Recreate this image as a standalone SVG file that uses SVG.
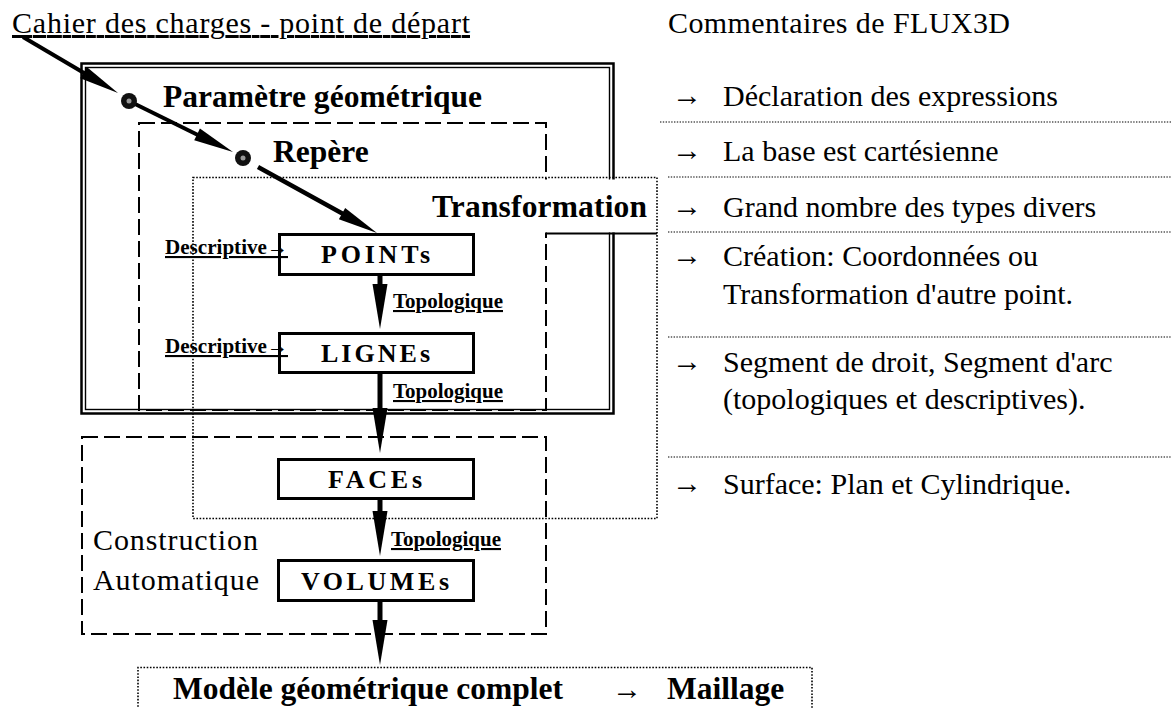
<svg xmlns="http://www.w3.org/2000/svg" xmlns:xlink="http://www.w3.org/1999/xlink" width="1172" height="708" viewBox="0 0 1172 708">
<style>
text{font-family:"Liberation Serif","Times New Roman",serif;fill:#000}
.h{font-size:31.5px;font-weight:bold}
.c{font-size:30px}
.n{font-size:26px;font-weight:bold}
.s{font-size:21px;font-weight:bold;text-decoration:underline}
.box{fill:#fff;stroke:#000;stroke-width:3}
.dash{fill:none;stroke:#000;stroke-width:2;stroke-dasharray:16 6}
.dot{fill:none;stroke:#000;stroke-width:1.6;stroke-dasharray:1.6 1.6}
.thin{fill:none;stroke:#000;stroke-width:1.2;stroke-dasharray:1.4 1.4}
.ln{stroke:#000;fill:none}
</style>
<defs>
<path id="hv" d="M-7.5,0 L7.5,0 L0,45 Z" fill="#000"/>
<path id="hd" d="M0,0 L-40,-6.5 L-40,6.5 Z" fill="#000"/>
</defs>
<rect width="1172" height="708" fill="#fff"/>

<g id="title">
<text class="c" x="12" y="33" font-size="31" textLength="458" lengthAdjust="spacing" style="text-decoration:underline">Cahier des charges - point de départ</text>
<text class="c" x="668" y="33" textLength="342" lengthAdjust="spacing">Commentaires de FLUX3D</text>
</g>

<g id="parametre">
<rect x="81.5" y="63.5" width="532" height="350" fill="none" stroke="#000" stroke-width="2.5"/>
<rect x="85.5" y="67.5" width="524" height="342" fill="none" stroke="#000" stroke-width="1.4"/>
<text class="h" x="163" y="107" textLength="319" lengthAdjust="spacing">Paramètre géométrique</text>
</g>

<g id="repere">
<rect x="139" y="123" width="407" height="287" class="dash"/>
<text class="h" x="273" y="162">Repère</text>
</g>

<g id="construction">
<rect x="82" y="437" width="464" height="197" class="dash"/>
<text class="c" x="93" y="550" font-size="31" textLength="165" lengthAdjust="spacing">Construction</text>
<text class="c" x="93" y="590" font-size="31" textLength="166" lengthAdjust="spacing">Automatique</text>
</g>

<g id="transformation">
<rect x="193" y="177.5" width="464" height="341" class="dot"/>
<rect x="400" y="179.5" width="255.5" height="53" fill="#fff"/>
<line x1="546" y1="233.5" x2="657" y2="233.5" class="ln" stroke-width="2"/>
<text class="h" x="432" y="217" textLength="215" lengthAdjust="spacing">Transformation</text>
</g>

<g id="modele">
<path d="M138,710 V667.5 H812 V710" class="dot"/>
<text class="h" x="173" y="699" textLength="390" lengthAdjust="spacing">Modèle géométrique complet</text>
<text class="c" x="612" y="699">→</text>
<text class="h" x="667" y="699">Maillage</text>
</g>

<g id="points">
<rect x="279.5" y="234.5" width="194" height="40" class="box"/>
<text class="n" x="321" y="263" textLength="109" lengthAdjust="spacing">POINTs</text>
</g>
<g id="lignes">
<rect x="279.5" y="333.5" width="194" height="39" class="box"/>
<text class="n" x="321" y="362" textLength="109" lengthAdjust="spacing">LIGNEs</text>
</g>
<g id="faces">
<rect x="278.5" y="459.5" width="195" height="39" class="box"/>
<text class="n" x="328" y="488" textLength="94" lengthAdjust="spacing">FACEs</text>
</g>
<g id="volumes">
<rect x="278.5" y="560.5" width="195" height="40" class="box"/>
<text class="n" x="301" y="590" textLength="148" lengthAdjust="spacing">VOLUMEs</text>
</g>

<g id="labels">
<text class="s" x="165" y="254" textLength="123" lengthAdjust="spacingAndGlyphs">Descriptive→</text>
<text class="s" x="165" y="353" textLength="123" lengthAdjust="spacingAndGlyphs">Descriptive→</text>
<text class="s" x="393" y="308" textLength="110" lengthAdjust="spacingAndGlyphs">Topologique</text>
<text class="s" x="393" y="398" textLength="110" lengthAdjust="spacingAndGlyphs">Topologique</text>
<text class="s" x="391" y="546" textLength="110" lengthAdjust="spacingAndGlyphs">Topologique</text>
</g>

<g id="connectors">
<line x1="23" y1="37" x2="90" y2="76.5" class="ln" stroke-width="4"/>
<use xlink:href="#hd" href="#hd" transform="translate(118,93) rotate(30.5)"/>
<line x1="129" y1="101" x2="205" y2="138.5" class="ln" stroke-width="4"/>
<use xlink:href="#hd" href="#hd" transform="translate(233,152) rotate(26.1)"/>
<line x1="258" y1="167" x2="345" y2="215" class="ln" stroke-width="4.5"/>
<use xlink:href="#hd" href="#hd" transform="translate(377,233) rotate(29)"/>
<circle cx="129" cy="101" r="8" fill="#111"/>
<circle cx="129" cy="101" r="2.5" fill="#999"/>
<circle cx="243" cy="158" r="8" fill="#111"/>
<circle cx="243" cy="158" r="2.5" fill="#999"/>
<line x1="380" y1="275" x2="380" y2="290" class="ln" stroke-width="5"/>
<use xlink:href="#hv" href="#hv" transform="translate(380,284)"/>
<line x1="380" y1="373" x2="380" y2="412" class="ln" stroke-width="5"/>
<use xlink:href="#hv" href="#hv" transform="translate(380,408)"/>
<line x1="380" y1="499" x2="380" y2="515" class="ln" stroke-width="5"/>
<use xlink:href="#hv" href="#hv" transform="translate(380,511)"/>
<line x1="380" y1="601" x2="380" y2="624" class="ln" stroke-width="5"/>
<use xlink:href="#hv" href="#hv" transform="translate(380,620)"/>
</g>

<g id="comments">
<text class="c" x="672" y="105" font-size="22">→</text>
<text class="c" x="723" y="106" textLength="335" lengthAdjust="spacing">Déclaration des expressions</text>
<line x1="660" y1="122" x2="1172" y2="122" class="thin"/>
<text class="c" x="672" y="160" font-size="22">→</text>
<text class="c" x="723" y="161">La base est cartésienne</text>
<line x1="668" y1="177" x2="1172" y2="177" class="thin"/>
<text class="c" x="672" y="216" font-size="22">→</text>
<text class="c" x="723" y="217">Grand nombre des types divers</text>
<line x1="668" y1="232" x2="1172" y2="232" class="thin"/>
<text class="c" x="672" y="265" font-size="22">→</text>
<text class="c" x="723" y="266">Création: Coordonnées ou</text>
<text class="c" x="723" y="304">Transformation d'autre point.</text>
<line x1="668" y1="337" x2="1172" y2="337" class="thin"/>
<text class="c" x="672" y="371" font-size="22">→</text>
<text class="c" x="723" y="372">Segment de droit, Segment d'arc</text>
<text class="c" x="723" y="409">(topologiques et descriptives).</text>
<line x1="668" y1="457" x2="1172" y2="457" class="thin"/>
<text class="c" x="672" y="493" font-size="22">→</text>
<text class="c" x="723" y="494">Surface: Plan et Cylindrique.</text>
</g>
</svg>
